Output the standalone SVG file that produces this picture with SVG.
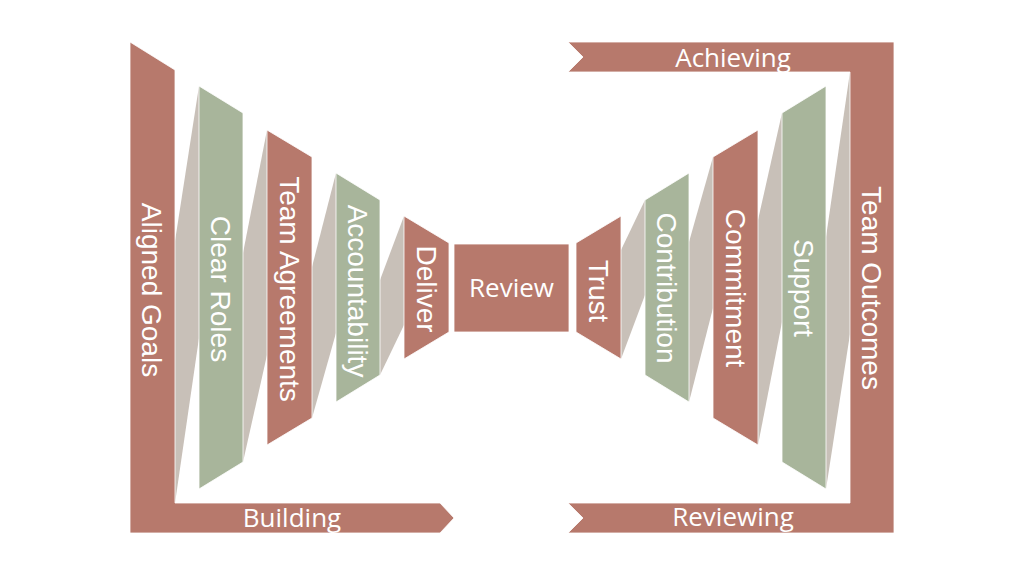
<svg xmlns="http://www.w3.org/2000/svg" width="1024" height="576" viewBox="0 0 1024 576">
<style>
.red{fill:#B7796C;stroke:#ffffff;stroke-width:0.8}
.green{fill:#A8B59B;stroke:#ffffff;stroke-width:0.8}
.gray{fill:#C8C0B8}
.vt{font-family:"Liberation Sans",Arial,sans-serif;font-size:28px;fill:#ffffff;text-anchor:middle}
.ht{font-family:"Open Sans","Liberation Sans",sans-serif;font-size:26px;fill:#ffffff;text-anchor:middle}
</style>
<rect x="0" y="0" width="1024" height="576" fill="#ffffff"/>
<g id="connectors">
<polygon class="gray" points="199,86 175,241 175,503 199,338"/>
<polygon class="gray" points="267,130 243,253 243,462 267,355"/>
<polygon class="gray" points="336,173 312,267 312,418 336,333"/>
<polygon class="gray" points="404,216 380,280 380,375 404,325"/>
<polygon class="gray" points="621,359 645,295 645,200 621,250"/>
<polygon class="gray" points="689,402 713,308 713,157 689,242"/>
<polygon class="gray" points="758,445 782,322 782,113 758,220"/>
<polygon class="gray" points="826,489 850,334 850,72 826,237"/>
</g>
<g id="aligned-goals">
<polygon class="red" points="130,42 175,70 175,503 440,503 454,518 440,533 130,533"/>
<text class="vt" transform="translate(142,290) rotate(90)">Aligned Goals</text>
<text class="ht" x="292" y="527">Building</text>
</g>
<g id="clear-roles">
<polygon class="green" points="199,86 243,113 243,462 199,489"/>
<text class="vt" transform="translate(211,289) rotate(90)">Clear Roles</text>
</g>
<g id="team-agreements">
<polygon class="red" points="267,130 312,157 312,418 267,445"/>
<text class="vt" transform="translate(279.5,289) rotate(90)">Team Agreements</text>
</g>
<g id="accountability">
<polygon class="green" points="336,173 380,200 380,375 336,402"/>
<text class="vt" transform="translate(348,291) rotate(90)">Accountability</text>
</g>
<g id="deliver">
<polygon class="red" points="404,216 449,243 449,332 404,359"/>
<text class="vt" transform="translate(416.5,289) rotate(90)">Deliver</text>
</g>
<g id="review">
<rect class="red" x="454" y="244" width="115" height="88"/>
<text class="ht" x="511.5" y="297">Review</text>
</g>
<g id="trust">
<polygon class="red" points="576,243 621,216 621,359 576,332"/>
<text class="vt" transform="translate(588.5,291) rotate(90)">Trust</text>
</g>
<g id="contribution">
<polygon class="green" points="645,200 689,173 689,402 645,375"/>
<text class="vt" transform="translate(657,288) rotate(90)">Contribution</text>
</g>
<g id="commitment">
<polygon class="red" points="713,157 758,130 758,445 713,418"/>
<text class="vt" transform="translate(725.5,288) rotate(90)">Commitment</text>
</g>
<g id="support">
<polygon class="green" points="782,113 826,86 826,489 782,462"/>
<text class="vt" transform="translate(794,288) rotate(90)">Support</text>
</g>
<g id="team-outcomes">
<polygon class="red" points="568,42 894,42 894,533 568,533 583,518 568,503 850,503 850,72 568,72 583,57"/>
<text class="vt" transform="translate(862,288) rotate(90)">Team Outcomes</text>
<text class="ht" x="733" y="67">Achieving</text>
<text class="ht" x="733" y="526">Reviewing</text>
</g>
</svg>
